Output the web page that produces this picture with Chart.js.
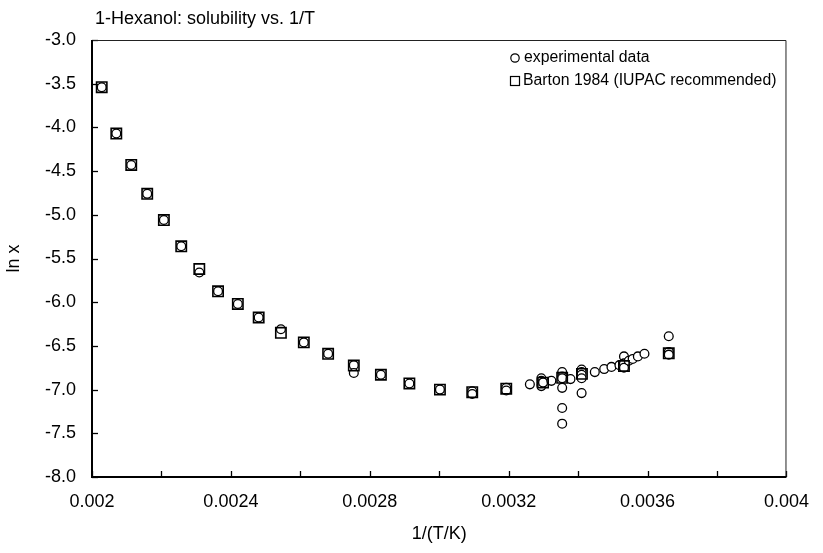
<!DOCTYPE html>
<html><head><meta charset="utf-8">
<script src="https://cdn.jsdelivr.net/npm/chart.js@4/dist/chart.umd.min.js"></script>
<style>html,body{margin:0;padding:0;background:#fff}#wrap{width:823px;height:553px}</style>
</head><body><div id="wrap"><canvas id="c" width="823" height="553"></canvas></div>
<script>
const chartTitle = '1-Hexanol: solubility vs. 1/T';
const xAxisTitle = '1/(T/K)';
const yAxisTitle = 'ln x';
const seriesNames = ['experimental data', 'Barton 1984 (IUPAC recommended)'];

const bartonX = [0.002028,0.00207,0.002113,0.002159,0.002207,0.002257,0.002309,0.002363,0.00242,0.00248,0.002544,0.00261,0.00268,0.002754,0.002832,0.002914,0.003002,0.003095,0.003193,0.003299,0.003354,0.003411,0.003532,0.003661];
const bartonY = [-3.54,-4.07,-4.43,-4.76,-5.06,-5.36,-5.62,-5.875,-6.02,-6.175,-6.35,-6.46,-6.59,-6.725,-6.83,-6.93,-7.00,-7.03,-6.99,-6.92,-6.865,-6.82,-6.73,-6.585];

const expX = [0.002028,0.00207,0.002113,0.002159,0.002207,0.002257,0.002309,0.002363,0.00242,0.00248,0.002544,0.00261,0.00268,0.002754,0.002754,0.002832,0.002914,0.003002,0.003095,0.003095,0.003193,0.003193,
  0.003261,0.003294,0.003294,0.003294,0.003294,0.003299,0.003323,0.003354,0.003354,0.003354,0.003354,0.003354,0.003354,0.003378,0.00341,0.00341,0.00341,0.00341,0.00341,0.003448,0.003475,0.003496,0.003519,0.003532,0.003532,0.003532,0.003546,0.003557,0.003572,0.003591,0.003661,0.003661,0.003661];
const expY = [-3.54,-4.07,-4.43,-4.76,-5.06,-5.36,-5.66,-5.875,-6.02,-6.175,-6.31,-6.46,-6.59,-6.72,-6.81,-6.83,-6.93,-7.00,-7.02,-7.05,-6.98,-7.01,
  -6.94,-6.87,-6.90,-6.93,-6.96,-6.92,-6.90,-6.80,-6.85,-6.87,-6.98,-7.21,-7.39,-6.88,-6.77,-6.80,-6.83,-6.87,-7.04,-6.80,-6.765,-6.74,-6.72,-6.62,-6.70,-6.75,-6.67,-6.65,-6.62,-6.59,-6.39,-6.57,-6.60];

const xTickValues = [0.002,0.0022,0.0024,0.0026,0.0028,0.003,0.0032,0.0034,0.0036,0.0038,0.004];
const xTickLabels = ['0.002','','0.0024','','0.0028','','0.0032','','0.0036','','0.004'];
const yTickValues = [-3,-3.5,-4,-4.5,-5,-5.5,-6,-6.5,-7,-7.5,-8];
const yTickLabels = ['-3.0','-3.5','-4.0','-4.5','-5.0','-5.5','-6.0','-6.5','-7.0','-7.5','-8.0'];

const FONT = '"Liberation Sans", Arial, sans-serif';

const toPts = (xs, ys) => xs.map((x, i) => ({x: x, y: ys[i]}));

const framePlugin = {
  id: 'frame',
  afterDatasetsDraw(chart) {
    const {ctx, chartArea: a, scales} = chart;
    ctx.save();
    ctx.strokeStyle = '#000';
    ctx.lineWidth = 1.3;
    xTickValues.forEach(v => {
      const px = Math.round(scales.x.getPixelForValue(v)) + 0.5;
      ctx.beginPath(); ctx.moveTo(px, a.bottom); ctx.lineTo(px, a.bottom - 6); ctx.stroke();
    });
    yTickValues.forEach(v => {
      const py = Math.round(scales.y.getPixelForValue(v)) + 0.5;
      ctx.beginPath(); ctx.moveTo(a.left, py); ctx.lineTo(a.left + 6, py); ctx.stroke();
    });
    ctx.lineWidth = 1;
    ctx.strokeStyle = '#222';
    ctx.beginPath();
    ctx.moveTo(a.left, a.top + 0.5); ctx.lineTo(a.right - 0.5, a.top + 0.5); ctx.lineTo(a.right - 0.5, a.bottom);
    ctx.stroke();
    ctx.lineWidth = 2;
    ctx.strokeStyle = '#000';
    ctx.beginPath();
    ctx.moveTo(a.left, a.top); ctx.lineTo(a.left, a.bottom); ctx.lineTo(a.right, a.bottom);
    ctx.stroke();
    ctx.restore();
  },
  afterDraw(chart) {
    const {ctx} = chart;
    ctx.save();
    ctx.fillStyle = '#000';
    ctx.font = '18px ' + FONT;
    ctx.textBaseline = 'middle';
    ctx.textAlign = 'left';
    ctx.fillText(chartTitle, 95, 19);
    ctx.font = '15.8px ' + FONT;
    ctx.lineWidth = 1.2;
    ctx.strokeStyle = '#000';
    ctx.fillStyle = '#fff';
    ctx.beginPath(); ctx.arc(515, 58, 4.2, 0, Math.PI * 2); ctx.fill(); ctx.stroke();
    ctx.fillRect(510.5, 76.5, 9, 9); ctx.strokeRect(510.5, 76.5, 9, 9);
    ctx.fillStyle = '#000';
    ctx.fillText(seriesNames[0], 524, 58);
    ctx.fillText(seriesNames[1], 523, 81);
    ctx.restore();
  }
};

new Chart(document.getElementById('c'), {
  type: 'scatter',
  data: {
    datasets: [
      {
        label: seriesNames[1],
        data: toPts(bartonX, bartonY),
        pointStyle: 'rect',
        pointRadius: 7.3,
        pointBorderWidth: 1.6,
        pointBorderColor: '#000',
        pointBackgroundColor: 'rgba(0,0,0,0)',
        order: 0
      },
      {
        label: seriesNames[0],
        data: toPts(expX, expY),
        pointStyle: 'circle',
        pointRadius: 4.4,
        pointBorderWidth: 1.3,
        pointBorderColor: '#000',
        pointBackgroundColor: '#fff',
        order: 1
      }
    ]
  },
  options: {
    responsive: false,
    animation: false,
    devicePixelRatio: 1,
    layout: {padding: {top: 40, right: 29, left: 0, bottom: 0}},
    plugins: {legend: {display: false}, tooltip: {enabled: false}, title: {display: false}},
    scales: {
      x: {
        type: 'linear', min: 0.002, max: 0.004,
        afterBuildTicks: s => { s.ticks = xTickValues.map(v => ({value: v})); },
        afterFit: s => { s.height = 76; },
        ticks: {
          autoSkip: false, maxRotation: 0, minRotation: 0, padding: 14,
          color: '#000', font: {family: FONT, size: 18},
          callback: (v, i) => xTickLabels[i]
        },
        grid: {display: false, drawTicks: false},
        border: {display: false},
        title: {display: true, text: xAxisTitle, color: '#000', font: {family: FONT, size: 18}, padding: {top: 0, bottom: 8}}
      },
      y: {
        type: 'linear', min: -8, max: -3,
        afterBuildTicks: s => { s.ticks = yTickValues.map(v => ({value: v})); },
        afterFit: s => { s.width = 92; },
        ticks: {
          autoSkip: false, padding: 16,
          color: '#000', font: {family: FONT, size: 18},
          callback: (v, i) => yTickLabels[i]
        },
        grid: {display: false, drawTicks: false},
        border: {display: false},
        title: {display: true, text: yAxisTitle, color: '#000', font: {family: FONT, size: 18}, padding: {top: 3, bottom: 0}}
      }
    }
  },
  plugins: [framePlugin]
});
</script>
</body></html>
